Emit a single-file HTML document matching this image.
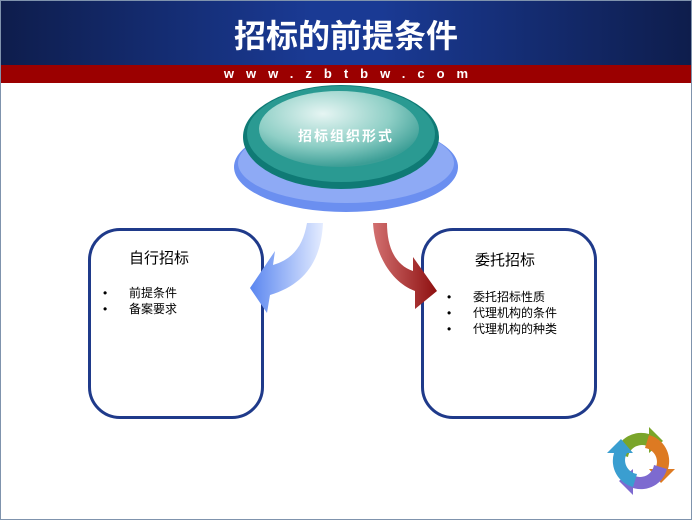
<!DOCTYPE html>
<html><head><meta charset="utf-8"><style>
body{margin:0;width:692px;height:520px;overflow:hidden;background:#fff;font-family:"Liberation Sans","Noto Sans CJK SC",sans-serif;}
.wrap{position:relative;width:690px;height:518px;border:1px solid #7f93ad;}
.hdr{position:absolute;left:0;top:0;width:690px;height:64px;background:linear-gradient(90deg,#0e1d4c 0%,#1a3a94 45%,#1a3a94 55%,#0e1d4c 100%);}
.hdr h1{margin:0;text-align:center;color:#fff;font-size:32px;line-height:66px;font-weight:bold;font-family:"Noto Sans CJK SC",sans-serif;}
.red{position:absolute;left:0;top:64px;width:690px;height:18px;background:#9b0000;color:#fff;text-align:center;font-size:13px;line-height:18px;font-weight:bold;letter-spacing:12px;text-indent:12px;}
.box{position:absolute;top:227px;width:170px;height:185px;border:3px solid #1f3a8a;border-radius:32px;}
.t{position:absolute;font-size:15px;color:#000;}
ul{position:absolute;margin:0;padding:0;list-style:none;font-size:12px;line-height:16px;}
li:before{content:"•";position:absolute;left:-26px;}
li{position:relative;}
</style></head><body><div class="wrap">
<div class="hdr"><h1>招标的前提条件</h1></div>
<div class="red">www.zbtbw.com</div>
<div class="box" style="left:87px"></div>
<div class="box" style="left:420px"></div>
<div class="t" style="left:128px;top:246px">自行招标</div>
<ul style="left:128px;top:284px"><li>前提条件</li><li>备案要求</li></ul>
<div class="t" style="left:474px;top:248px">委托招标</div>
<ul style="left:472px;top:288px"><li>委托招标性质</li><li>代理机构的条件</li><li>代理机构的种类</li></ul>
<svg style="position:absolute;left:0;top:0" width="692" height="520">
<defs>
<linearGradient id="bl" x1="1" y1="0" x2="0" y2="0"><stop offset="0" stop-color="#e4ecff"/><stop offset="1" stop-color="#5a86f0"/></linearGradient>
<linearGradient id="rd" x1="0" y1="0" x2="1" y2="0"><stop offset="0" stop-color="#d27070"/><stop offset="1" stop-color="#8e1010"/></linearGradient>
<radialGradient id="tl" cx="0.4" cy="0.3" r="0.7"><stop offset="0" stop-color="#e6f5f3"/><stop offset="0.6" stop-color="#8fcfc6"/><stop offset="1" stop-color="#3c9e96"/></radialGradient>
</defs>
<ellipse cx="345" cy="166" rx="112" ry="45" fill="#6b8ff0"/>
<ellipse cx="345" cy="162" rx="108" ry="40" fill="#8eaaf5"/>
<ellipse cx="340" cy="136" rx="98" ry="52" fill="#0f7a75"/>
<ellipse cx="340" cy="133" rx="94" ry="48" fill="#2a9a92"/>
<ellipse cx="338" cy="128" rx="80" ry="38" fill="url(#tl)"/>
<text x="345" y="140" text-anchor="middle" fill="#fff" font-size="14" font-weight="bold" font-family="Noto Sans CJK SC,sans-serif" letter-spacing="2">招标组织形式</text>
<path d="M306,222 C302,245 292,258 272,264 L274,250 L249,287 L266,312 L269,294 C302,284 320,262 322,222 Z" fill="url(#bl)"/>
<path d="M372,222 C374,256 392,282 414,290 L414,308 L436,290 L412,256 L412,270 C394,264 386,246 386,222 Z" fill="url(#rd)"/>
<g transform="translate(640,460)">
<path d="M-26,-8 A27,27 0 0 1 8,-27 L8,-34 L22,-20 L8,-8 L8,-14 A14,14 0 0 0 -13,-4 Z" fill="#7aa52a"/>
<path d="M8,-26 A27,27 0 0 1 27,8 L34,8 L20,22 L8,8 L14,8 A14,14 0 0 0 4,-13 Z" fill="#dd7a22"/>
<path d="M26,8 A27,27 0 0 1 -8,27 L-8,34 L-22,20 L-8,8 L-8,14 A14,14 0 0 0 13,4 Z" fill="#7d6ad0"/>
<path d="M-8,26 A27,27 0 0 1 -27,-8 L-34,-8 L-20,-22 L-8,-8 L-14,-8 A14,14 0 0 0 -4,13 Z" fill="#3a9ed0"/>
</g>
</svg>
</div></body></html>
